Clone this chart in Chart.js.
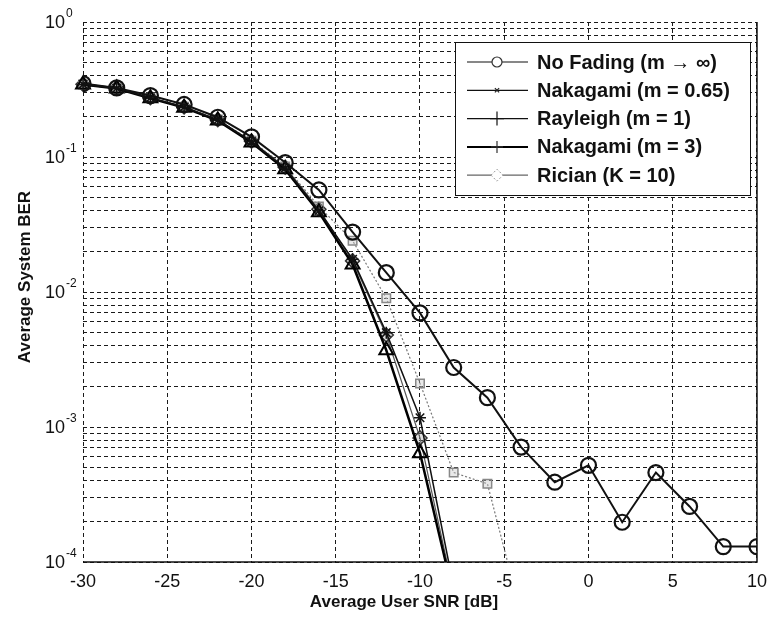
<!DOCTYPE html>
<html>
<head>
<meta charset="utf-8">
<script src="https://cdn.jsdelivr.net/npm/chart.js@4.4.1/dist/chart.umd.min.js"></script>
<style>
    html, body { margin: 0; padding: 0; background: #fff; }
    #wrap { width: 776px; height: 620px; }
</style>
</head>
<body>
<div id="wrap"><canvas id="ber-plot" width="776" height="620"></canvas></div>
<script>
// SNR grid in dB
const snr = [-30, -28, -26, -24, -22, -20, -18, -16, -14, -12, -10, -8, -6, -4, -2, 0, 2, 4, 6, 8, 10];

// average system BER per curve (null = below the plotted range)
const noFading = [0.35, 0.325, 0.285, 0.245, 0.197, 0.141, 0.091, 0.057, 0.0278, 0.0139, 0.0070, 0.00276,
    0.00165, 0.00071, 0.00039, 0.00052, 0.000197, 0.00046, 0.000258, 0.00013, 0.00013];
const nakagami065 = [0.345, 0.323, 0.274, 0.234, 0.188, 0.130, 0.083, 0.040, 0.0175, 0.0050, 0.00117, 0.000065,
    null, null, null, null, null, null, null, null, null];
const rayleigh = [0.345, 0.322, 0.272, 0.232, 0.186, 0.128, 0.081, 0.039, 0.0160, 0.0037, 0.00064, 0.000056,
    null, null, null, null, null, null, null, null, null];
const nakagami3 = [0.344, 0.322, 0.275, 0.236, 0.190, 0.132, 0.085, 0.043, 0.024, 0.0090, 0.0021, 0.00046,
    0.00038, 0.000041, null, null, null, null, null, null, null];
const rician = [0.346, 0.324, 0.275, 0.235, 0.189, 0.131, 0.084, 0.041, 0.017, 0.0048, 0.00083, 0.000059,
    null, null, null, null, null, null, null, null, null];

const xTicks = [-30, -25, -20, -15, -10, -5, 0, 5, 10];
const yDecades = [0, -1, -2, -3, -4];

const legendNames = ['No Fading (m \u2192 \u221e)', 'Nakagami (m = 0.65)', 'Rayleigh (m = 1)', 'Nakagami (m = 3)', 'Rician (K = 10)'];

const FONT = '"Liberation Sans", Arial, Helvetica, sans-serif';

function toPoints(values) {
    let pts = [];
    for (let i = 0; i < snr.length; i++) {
        pts.push({x: snr[i], y: values[i]});
    }
    return pts;
}

const fadeClip = {left: 10, top: 10, right: 10, bottom: 0};

// legend samples: line style + marker for each entry
const legendSamples = [
    {color: '#111', width: 1.2, marker: {pointStyle: 'circle', radius: 5, borderWidth: 1.2, color: '#333'}},
    {color: '#111', width: 1.2, marker: {pointStyle: 'crossRot', radius: 3, borderWidth: 1.2, color: '#222'}},
    {color: '#111', width: 1.2, marker: {pointStyle: 'cross', radius: 7, borderWidth: 1.2, color: '#111'}},
    {color: '#000', width: 2, marker: {pointStyle: 'cross', radius: 6, borderWidth: 1.2, color: '#333'}},
    {color: '#666', width: 1.2, marker: {pointStyle: 'rectRot', radius: 6, borderWidth: 1, color: '#999', dash: [2, 2]}}
];

const axisDecor = {
    id: 'axisDecor',
    beforeDatasetsDraw(chart) {
        const ctx = chart.ctx;
        const a = chart.chartArea;
        ctx.save();
        ctx.strokeStyle = '#111';
        ctx.lineWidth = 1.5;
        ctx.beginPath();
        ctx.moveTo(a.left, a.bottom);
        ctx.lineTo(a.right, a.bottom);
        ctx.lineTo(a.right, a.top);
        ctx.stroke();
        ctx.restore();
    },
    afterDraw(chart) {
        const ctx = chart.ctx;
        const ys = chart.scales.y;
        ctx.save();
        ctx.fillStyle = '#111';
        // decade labels 10^n
        for (const e of yDecades) {
            const py = ys.getPixelForValue(Math.pow(10, e));
            ctx.font = '18px ' + FONT;
            ctx.textAlign = 'right';
            ctx.textBaseline = 'middle';
            ctx.fillText('10', 65, py + 1);
            ctx.font = '12px ' + FONT;
            ctx.textAlign = 'left';
            ctx.fillText(String(e), 66, py - 8);
        }
        // axis titles
        ctx.font = 'bold 17px ' + FONT;
        ctx.textAlign = 'center';
        ctx.textBaseline = 'middle';
        ctx.fillText('Average User SNR [dB]', 404, 602);
        ctx.save();
        ctx.translate(25, 277);
        ctx.rotate(-Math.PI / 2);
        ctx.fillText('Average System BER', 0, 0);
        ctx.restore();

        // legend box
        const bx = 455, by = 42, bw = 295, bh = 153;
        ctx.fillStyle = '#fff';
        ctx.fillRect(bx, by, bw, bh);
        ctx.strokeStyle = '#111';
        ctx.lineWidth = 1;
        ctx.strokeRect(bx + 0.5, by + 0.5, bw, bh);
        for (let i = 0; i < legendNames.length; i++) {
            const ry = 62 + i * 28.3;
            const s = legendSamples[i];
            ctx.strokeStyle = s.color;
            ctx.lineWidth = s.width;
            ctx.beginPath();
            ctx.moveTo(467, ry);
            ctx.lineTo(528, ry);
            ctx.stroke();
            ctx.save();
            ctx.strokeStyle = s.marker.color;
            ctx.fillStyle = '#fff';
            ctx.lineWidth = s.marker.borderWidth;
            if (s.marker.dash) ctx.setLineDash(s.marker.dash);
            Chart.helpers.drawPoint(ctx, {pointStyle: s.marker.pointStyle, radius: s.marker.radius,
                borderWidth: s.marker.borderWidth, rotation: 0}, 497, ry);
            ctx.restore();
            ctx.fillStyle = '#111';
            ctx.font = 'bold 20px ' + FONT;
            ctx.textAlign = 'left';
            ctx.textBaseline = 'middle';
            ctx.fillText(legendNames[i], 537, ry + 1);
        }
        ctx.restore();
    }
};

const gridStyle = {color: '#1a1a1a', lineWidth: 1, drawTicks: false};

new Chart(document.getElementById('ber-plot').getContext('2d'), {
    type: 'line',
    data: {
        datasets: [{
            label: legendNames[0],
            data: toPoints(noFading),
            borderColor: '#111',
            borderWidth: 2,
            pointStyle: 'circle',
            pointRadius: 7.5,
            pointBorderWidth: 2.2,
            pointBorderColor: '#111',
            pointBackgroundColor: 'rgba(0,0,0,0)'
        }, {
            label: legendNames[1],
            data: toPoints(nakagami065),
            borderColor: '#111',
            borderWidth: 1.5,
            pointStyle: 'star',
            pointRadius: 6,
            pointBorderWidth: 1.5,
            pointBorderColor: '#111',
            pointBackgroundColor: 'rgba(0,0,0,0)',
            clip: fadeClip
        }, {
            label: legendNames[2],
            data: toPoints(rayleigh),
            borderColor: '#000',
            borderWidth: 2.5,
            pointStyle: 'triangle',
            pointRadius: 8,
            pointBorderWidth: 2,
            pointBorderColor: '#000',
            pointBackgroundColor: 'rgba(0,0,0,0)',
            clip: fadeClip
        }, {
            label: legendNames[3],
            data: toPoints(nakagami3),
            borderColor: '#777',
            borderWidth: 1.2,
            borderDash: [2, 2],
            pointStyle: 'rect',
            pointRadius: 6,
            pointBorderWidth: 1.5,
            pointBorderColor: '#888',
            pointBackgroundColor: 'rgba(200,200,200,0.4)',
            clip: fadeClip
        }, {
            label: legendNames[4],
            data: toPoints(rician),
            borderColor: '#555',
            borderWidth: 1.2,
            pointStyle: 'rectRot',
            pointRadius: 7,
            pointBorderWidth: 1.5,
            pointBorderColor: '#333',
            pointBackgroundColor: 'rgba(150,150,150,0.3)',
            clip: fadeClip
        }]
    },
    options: {
        responsive: false,
        animation: false,
        layout: {padding: {top: 22, right: 11, left: 0, bottom: 0}},
        plugins: {
            legend: {display: false},
            tooltip: {enabled: false}
        },
        scales: {
            x: {
                type: 'linear',
                min: -30,
                max: 10,
                afterBuildTicks: scale => {
                    scale.ticks = xTicks.map(v => ({value: v}));
                },
                afterFit: scale => {
                    scale.height = 58;
                },
                grid: gridStyle,
                border: {display: false, dash: [4, 3]},
                ticks: {
                    color: '#111',
                    padding: 9,
                    maxRotation: 0,
                    font: {family: FONT, size: 18}
                }
            },
            y: {
                type: 'logarithmic',
                min: 1e-4,
                max: 1,
                afterBuildTicks: scale => {
                    let t = [];
                    for (let e = -4; e < 0; e++) {
                        for (let m = 1; m <= 9; m++) {
                            t.push({value: m * Math.pow(10, e)});
                        }
                    }
                    t.push({value: 1});
                    scale.ticks = t;
                },
                afterFit: scale => {
                    scale.width = 83;
                },
                grid: gridStyle,
                border: {display: false, dash: [4, 3]},
                ticks: {display: false}
            }
        }
    },
    plugins: [axisDecor]
});
</script>
</body>
</html>
